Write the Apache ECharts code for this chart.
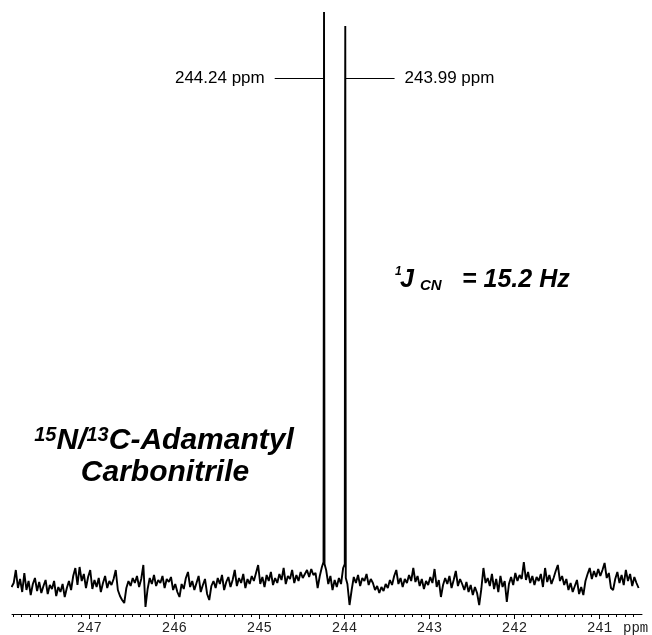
<!DOCTYPE html>
<html>
<head>
<meta charset="utf-8">
<script src="https://cdn.jsdelivr.net/npm/echarts@6/dist/echarts.min.js"></script>
<style>
  html, body { margin: 0; padding: 0; background: #fff; }
  #chart { width: 652px; height: 635px; }
</style>
</head>
<body>
<div id="chart"></div>
<script>
// 13C baseline, sampled every 0.025 ppm starting at 247.915 ppm
const ppmStart = 247.915;
const ppmStep = 0.025;
const intensity = [
  27, 31, 44, 26, 35, 22, 41, 24, 33, 19,
  30, 36, 23, 32, 21, 28, 34, 20, 29, 25,
  33, 18, 27, 22, 30, 17, 26, 33, 24, 38,
  46, 29, 47, 33, 40, 26, 37, 44, 25, 34,
  27, 36, 22, 31, 38, 26, 33, 29, 35, 44,
  24, 18, 14, 11, 26, 33, 28, 36, 31, 38,
  27, 35, 49, 7, 25, 36, 30, 39, 28, 34,
  31, 38, 26, 35, 32, 37, 24, 30, 22, 17,
  30, 25, 36, 42, 27, 33, 24, 31, 38, 22,
  29, 35, 20, 14, 28, 33, 26, 36, 30, 39,
  24, 32, 37, 27, 34, 44, 28, 36, 31, 40,
  26, 35, 30, 38, 33, 41, 49, 30, 37, 27,
  39, 33, 42, 29, 36, 31, 40, 34, 46, 30,
  38, 35, 44, 31, 39, 33, 42, 36, 40, 44,
  37, 45, 39, 41, 26, 38, 47, 50, 44, 30,
  38, 24, 34, 27, 36, 30, 46, 40, 30, 9,
  24, 37, 31, 39, 28, 36, 33, 40, 29, 35,
  31, 24, 28, 21, 27, 23, 30, 26, 34, 29,
  38, 44, 30, 36, 27, 35, 31, 39, 33, 46,
  32, 38, 28, 35, 25, 33, 29, 37, 31, 45,
  27, 34, 17, 29, 36, 30, 38, 26, 34, 43,
  28, 35, 30, 24, 32, 22, 29, 19, 27, 21,
  9, 25, 46, 31, 36, 28, 40, 25, 35, 22,
  38, 27, 33, 12, 30, 37, 29, 41, 33, 39,
  35, 52, 34, 42, 31, 38, 29, 37, 33, 40,
  27, 46, 32, 39, 30, 36, 43, 49, 33, 38,
  29, 35, 24, 31, 22, 28, 34, 20, 27, 19,
  33, 40, 46, 35, 43, 37, 45, 38, 44, 51,
  36, 41, 26, 24, 35, 42, 31, 39, 29, 44,
  33, 40, 28, 37, 31, 26,
];

// the two narrow doublet lines: [ppm, intensity]
const peakPoints = [
  [244.246, 52],
  [244.24, 602],
  [244.234, 50],
  [243.996, 50],
  [243.992, 500],
  [243.99, 588],
  [243.984, 36],
];

const majorTicks = [241, 242, 243, 244, 245, 246, 247];
const peakShifts = [244.24, 243.99];
const peakLabels = ["244.24 ppm", "243.99 ppm"];

const baseline = intensity.map((v, i) => [+(ppmStart - i * ppmStep).toFixed(3), v]);
const spectrum = baseline
  .filter((p) => !peakShifts.some((s) => Math.abs(p[0] - s) < 0.001))
  .concat(peakPoints)
  .sort((a, b) => b[0] - a[0]);

// minor ticks every 0.1 ppm
const minorTicks = [];
for (let k = 2406; k <= 2479; k++) {
  if (k % 10 !== 0) minorTicks.push(k / 10);
}

const leaderY = 536;
const leaderLen = 0.58;

const chart = echarts.init(document.getElementById("chart"));

const boldItalic = {
  fontFamily: "Liberation Sans",
  fontWeight: "bold",
  fontStyle: "italic",
  fill: "#000",
};

const option = {
  animation: false,
  grid: { left: 12, right: 10, top: 10, bottom: 21 },
  xAxis: [
    {
      type: "value",
      inverse: true,
      min: 240.5,
      max: 247.91,
      axisLine: { lineStyle: { color: "#000", width: 1 } },
      axisTick: { customValues: majorTicks, length: 5, lineStyle: { color: "#000" } },
      axisLabel: {
        customValues: majorTicks,
        margin: 7,
        color: "#222",
        fontFamily: "Liberation Mono",
        fontSize: 14,
      },
      splitLine: { show: false },
    },
    {
      type: "value",
      inverse: true,
      min: 240.5,
      max: 247.91,
      position: "bottom",
      axisLine: { show: false },
      axisTick: { customValues: minorTicks, length: 3, lineStyle: { color: "#000" } },
      axisLabel: { show: false },
      splitLine: { show: false },
    },
  ],
  yAxis: { type: "value", min: 0, max: 604, show: false },
  series: [
    {
      type: "line",
      data: spectrum,
      showSymbol: false,
      clip: false,
      lineStyle: { color: "#000", width: 1.9 },
      markLine: {
        silent: true,
        symbol: "none",
        lineStyle: { color: "#000", width: 1, type: "solid" },
        label: {
          position: "end",
          distance: 10,
          color: "#000",
          fontFamily: "Liberation Sans",
          fontSize: 17,
        },
        data: [
          [
            { coord: [peakShifts[0], leaderY] },
            { coord: [peakShifts[0] + leaderLen, leaderY], label: { formatter: peakLabels[0] } },
          ],
          [
            { coord: [peakShifts[1], leaderY] },
            { coord: [peakShifts[1] - leaderLen, leaderY], label: { formatter: peakLabels[1] } },
          ],
        ],
      },
    },
  ],
  graphic: [
    {
      type: "text",
      left: 623,
      top: 621,
      style: { text: "ppm", fontFamily: "Liberation Mono", fontSize: 14, fill: "#222" },
    },
    // coupling constant
    { type: "text", x: 395, y: 272, style: Object.assign({ text: "1", fontSize: 12, verticalAlign: "middle" }, boldItalic) },
    { type: "text", x: 400, y: 280, style: Object.assign({ text: "J", fontSize: 25, verticalAlign: "middle" }, boldItalic) },
    { type: "text", x: 420, y: 286, style: Object.assign({ text: "CN", fontSize: 15, verticalAlign: "middle" }, boldItalic) },
    { type: "text", x: 462, y: 280, style: Object.assign({ text: "= 15.2 Hz", fontSize: 25, verticalAlign: "middle" }, boldItalic) },
    // compound name
    {
      type: "text",
      x: 164,
      y: 441,
      style: Object.assign(
        {
          text: "{s|15}{b|N/}{s|13}{b|C-Adamantyl}",
          align: "center",
          verticalAlign: "middle",
          rich: {
            s: Object.assign({ fontSize: 20, verticalAlign: "top", lineHeight: 32 }, boldItalic),
            b: Object.assign({ fontSize: 30, lineHeight: 32 }, boldItalic),
          },
        },
        boldItalic
      ),
    },
    {
      type: "text",
      x: 165,
      y: 473,
      style: Object.assign({ text: "Carbonitrile", fontSize: 30, align: "center", verticalAlign: "middle" }, boldItalic),
    },
  ],
};

chart.setOption(option);
window.addEventListener("resize", () => {
  chart.resize();
});
</script>
</body>
</html>
